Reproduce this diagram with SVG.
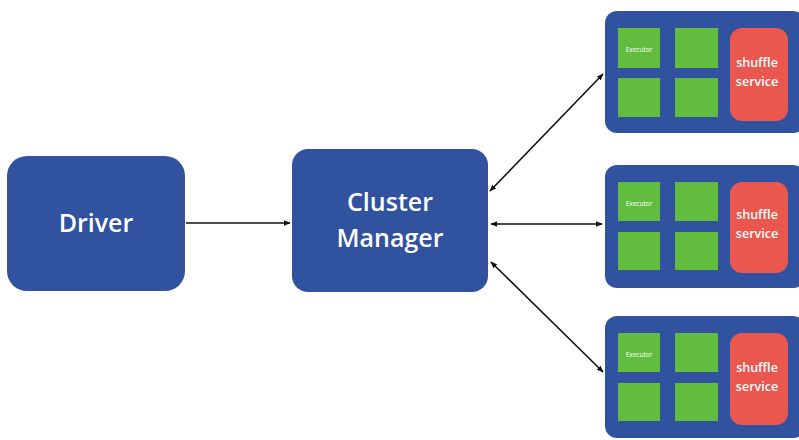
<svg xmlns="http://www.w3.org/2000/svg" width="799" height="440" viewBox="0 0 799 440">
<defs>
<style>
.blue{fill:#30529f}
.green{fill:#62bd3f}
.red{fill:#e9574f}
.lbl{font-family:"Open Sans","Liberation Sans",sans-serif;font-weight:600;fill:#ffffff;text-anchor:middle}
.big{font-size:25px}
.ss{font-size:12.5px}
.ex{font-size:6.5px;font-weight:400}
.conn{stroke:#111;stroke-width:1.6;fill:none}
</style>
<marker id="ah" viewBox="0 0 10 10" refX="9" refY="5" markerWidth="7" markerHeight="7" orient="auto-start-reverse" markerUnits="userSpaceOnUse">
<path d="M0,1 L10,5 L0,9 z" fill="#111"/>
</marker>
</defs>
<rect width="799" height="440" fill="#ffffff"/>
<g id="driver">
<rect class="blue" x="7" y="156" width="178" height="135" rx="20"/>
<text class="lbl big" x="96" y="232">Driver</text>
</g>
<g id="cluster-manager">
<rect class="blue" x="292" y="149" width="196" height="143" rx="16"/>
<text class="lbl big" x="390" y="211">Cluster</text>
<text class="lbl big" x="390" y="247">Manager</text>
</g>
<g id="worker1">
<rect class="blue" x="605" y="11" width="200" height="122" rx="12"/>
<rect class="green" x="618" y="28" width="42" height="40"/>
<rect class="green" x="675" y="28" width="43" height="40"/>
<rect class="green" x="618" y="78" width="42" height="39"/>
<rect class="green" x="675" y="78" width="43" height="39"/>
<rect class="red" x="730" y="28" width="58" height="93" rx="12"/>
<text class="lbl ex" x="639" y="52">Executor</text>
<text class="lbl ss" x="757" y="67">shuffle</text>
<text class="lbl ss" x="757" y="86">service</text>
</g>
<g id="worker2">
<rect class="blue" x="605" y="165" width="200" height="123" rx="12"/>
<rect class="green" x="618" y="182" width="42" height="39"/>
<rect class="green" x="675" y="182" width="43" height="39"/>
<rect class="green" x="618" y="232" width="42" height="38"/>
<rect class="green" x="675" y="232" width="43" height="38"/>
<rect class="red" x="730" y="182" width="58" height="91" rx="12"/>
<text class="lbl ex" x="639" y="206">Executor</text>
<text class="lbl ss" x="757" y="219">shuffle</text>
<text class="lbl ss" x="757" y="238">service</text>
</g>
<g id="worker3">
<rect class="blue" x="605" y="316" width="200" height="122" rx="12"/>
<rect class="green" x="618" y="333" width="42" height="39"/>
<rect class="green" x="675" y="333" width="43" height="39"/>
<rect class="green" x="618" y="383" width="42" height="38"/>
<rect class="green" x="675" y="383" width="43" height="38"/>
<rect class="red" x="730" y="333" width="58" height="92" rx="12"/>
<text class="lbl ex" x="639" y="357">Executor</text>
<text class="lbl ss" x="757" y="372">shuffle</text>
<text class="lbl ss" x="757" y="391">service</text>
</g>
<g id="connectors">
<line class="conn" x1="186" y1="223" x2="290" y2="223" marker-end="url(#ah)"/>
<line class="conn" x1="490" y1="191" x2="603" y2="74" marker-start="url(#ah)" marker-end="url(#ah)"/>
<line class="conn" x1="491" y1="224" x2="602" y2="224" marker-start="url(#ah)" marker-end="url(#ah)"/>
<line class="conn" x1="491" y1="262" x2="603" y2="372" marker-start="url(#ah)" marker-end="url(#ah)"/>
</g>
</svg>
